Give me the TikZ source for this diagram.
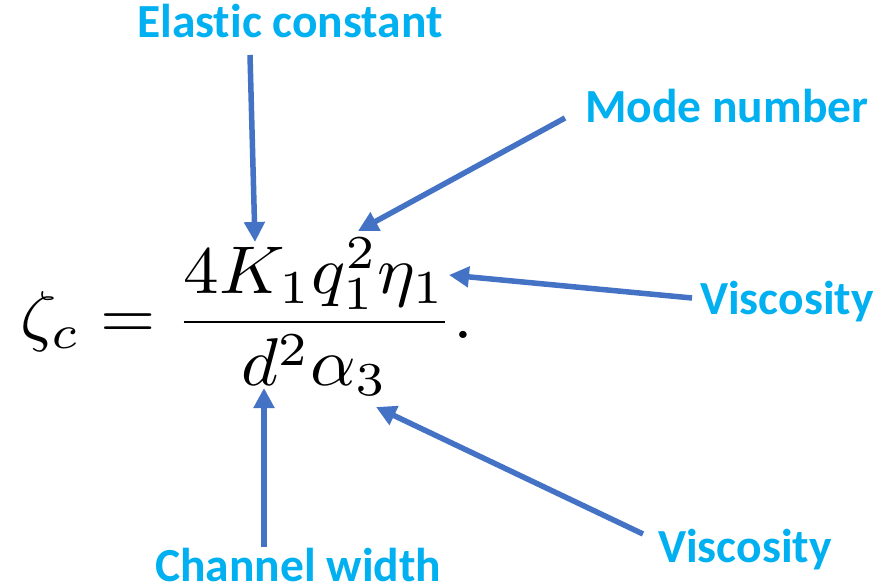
\documentclass[tikz,border=0pt]{standalone}
\usepackage{fontspec}
\setmainfont{Latin Modern Roman}
\newfontfamily\labelfont[RawFeature=-liga]{Carlito}
\usepackage{amsmath}
\usetikzlibrary{arrows.meta}
\definecolor{labelcyan}{RGB}{0,176,240}
\definecolor{arrowblue}{RGB}{68,114,196}
\begin{document}
\begin{tikzpicture}[x=1pt,y=-1pt,
  lbl/.style={font=\labelfont\bfseries\fontsize{47.5}{52}\selectfont, text=labelcyan, inner sep=0pt, anchor=base west},
  pointer/.style={draw=arrowblue, line width=5.5pt, -{Triangle[length=20pt,width=20pt]}}]
\useasboundingbox (0,0) rectangle (881,585);
\fill[white] (0,0) rectangle (881,585);
% equation
\node[inner sep=0pt, anchor=north west] (eq) at (20,238)
  {\resizebox*{453pt}{157pt}{$\displaystyle \zeta_c = \frac{4K_1q_1^2\eta_1}{d^2\alpha_3}.$}};
% labels
\node[lbl] (elastic) at (137,38) {Elastic constant};
\node[lbl] (mode) at (585,123) {Mode number};
\node[lbl] (visc1) at (700,315) {Viscosity};
\node[lbl] (visc2) at (658,562) {Viscosity};
\node[lbl] (chan) at (155,581) {Channel width};
% arrow ends
\coordinate (elasticT) at (250,55);
\coordinate (elasticH) at (255,242);
\coordinate (modeT) at (565,118);
\coordinate (modeH) at (358,231);
\coordinate (visc1T) at (692,298);
\coordinate (visc1H) at (449,275);
\coordinate (visc2T) at (643,534);
\coordinate (visc2H) at (376,407);
\coordinate (chanT) at (264,547);
\coordinate (chanH) at (264,388);
\draw[pointer] (elasticT) -- (elasticH);
\draw[pointer] (modeT) -- (modeH);
\draw[pointer] (visc1T) -- (visc1H);
\draw[pointer] (visc2T) -- (visc2H);
\draw[pointer] (chanT) -- (chanH);
\end{tikzpicture}
\end{document}
